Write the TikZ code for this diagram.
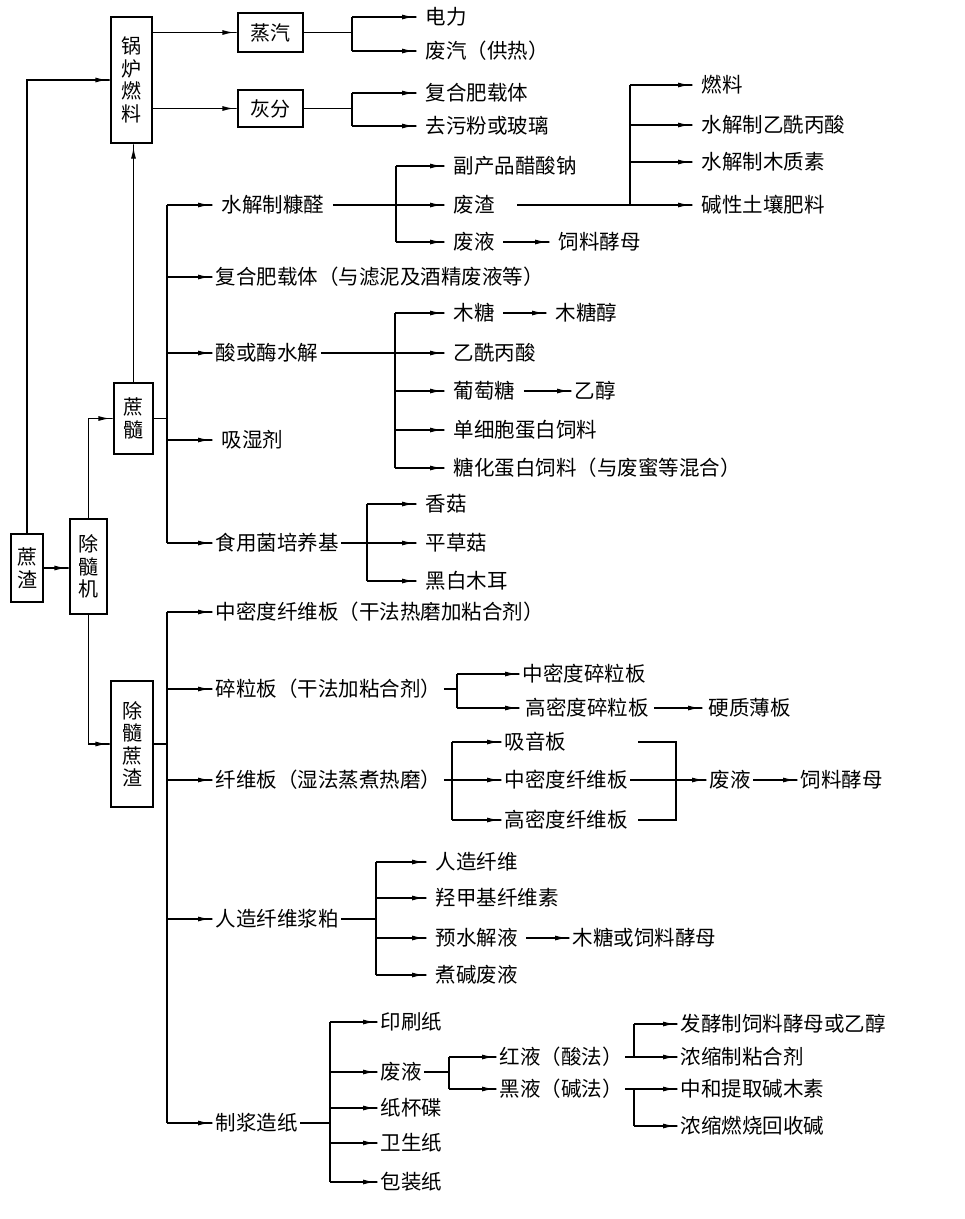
\documentclass[tikz,border=0pt]{standalone}
\usepackage{fontspec}
\setmainfont{Noto Sans CJK SC}
\usetikzlibrary{arrows.meta}
\begin{document}
\begin{tikzpicture}[x=1pt,y=-1pt,line width=1.35pt,
  arr/.style={-{Latex[length=12pt,width=5pt]Rectangle[length=3pt,width=1.35pt]}},
  boxn/.style={draw,line width=1.35pt,inner sep=0pt,align=center,font=\fontsize{20}{22.5}\selectfont},
  lbl/.style={anchor=west,inner xsep=2pt,inner ysep=0pt,font=\fontsize{20.5}{22}\selectfont},
  gap/.style={inner xsep=8pt},
]
\useasboundingbox (0,0) rectangle (965,1219);

% ---------- boxes ----------
\node[boxn,minimum width=41pt,minimum height=126pt] (gl) at (131.5,80) {锅\\炉\\燃\\料};
\node[boxn,minimum width=65pt,minimum height=39pt] (zq) at (270.5,32.5) {蒸汽};
\node[boxn,minimum width=65pt,minimum height=37pt] (hf) at (270.5,108.5) {灰分};
\node[boxn,minimum width=32pt,minimum height=68pt] (zz) at (27,568) {蔗\\渣};
\node[boxn,minimum width=37pt,minimum height=95pt] (csj) at (88.5,566.5) {除\\髓\\机};
\node[boxn,minimum width=39pt,minimum height=71pt] (zs) at (133.5,418.5) {蔗\\髓};
\node[boxn,minimum width=42pt,minimum height=126pt] (cszz) at (132,744) {除\\髓\\蔗\\渣};

\draw[arr] (zz.east) -- (zz.east -| csj.west);
\draw[arr] (zz.north) |- (gl.west);
\draw[arr] (csj.north) |- (zs.west);
\draw[arr] (csj.south) |- (cszz.west);
\draw[arr] (zs.north) -- (zs.north |- gl.south);
\draw[arr] (gl.east |- zq.west) -- (zq.west);
\draw[arr] (gl.east |- hf.west) -- (hf.west);

% ---------- steam / ash ----------
\coordinate (jz) at (352,0);
\node[lbl,gap] (dl) at (417,17) {电力};
\node[lbl,gap] (fq) at (417,51) {废汽（供热）};
\node[lbl,gap] (fh1) at (417,93) {复合肥载体};
\node[lbl,gap] (qw) at (417,126) {去污粉或玻璃};
\draw (zq.east) -- (zq.east -| jz);
\draw (jz |- dl.west) -- (jz |- fq.west);
\draw[arr] (jz |- dl.west) -- (dl.west);
\draw[arr] (jz |- fq.west) -- (fq.west);
\draw (hf.east) -- (hf.east -| jz);
\draw (jz |- fh1.west) -- (jz |- qw.west);
\draw[arr] (jz |- fh1.west) -- (fh1.west);
\draw[arr] (jz |- qw.west) -- (qw.west);

% ---------- pith tree ----------
\coordinate (s1) at (167,0);
\node[lbl,gap] (sjz) at (213,205) {水解制糠醛};
\node[lbl] (fhf) at (213,277) {复合肥载体（与滤泥及酒精废液等）};
\node[lbl] (shm) at (213,353) {酸或酶水解};
\node[lbl,gap] (xsj) at (213,440) {吸湿剂};
\node[lbl] (syj) at (213,543) {食用菌培养基};
\draw (zs.east) -- (zs.east -| s1);
\draw (s1 |- sjz.west) -- (s1 |- syj.west);
\foreach \n in {sjz,fhf,shm,xsj,syj} \draw[arr] (s1 |- \n.west) -- (\n.west);

% furfural
\coordinate (s2) at (396,0);
\node[lbl,gap] (fcp) at (445,166) {副产品醋酸钠};
\node[lbl,gap] (fz) at (445,205) {废渣};
\node[lbl,gap] (fy1) at (445,242) {废液};
\draw (sjz.east) -- (sjz.east -| s2);
\draw (s2 |- fcp.west) -- (s2 |- fy1.west);
\foreach \n in {fcp,fz,fy1} \draw[arr] (s2 |- \n.west) -- (\n.west);

\coordinate (s3) at (630,0);
\node[lbl,gap] (rl) at (693,85) {燃料};
\node[lbl,gap] (sjy) at (693,125) {水解制乙酰丙酸};
\node[lbl,gap] (sjm) at (693,162) {水解制木质素};
\node[lbl,gap] (jx) at (693,205) {碱性土壤肥料};
\draw ([xshift=14pt]fz.east) -- (fz.east -| s3);
\draw (s3 |- rl.west) -- (s3 |- jx.west);
\foreach \n in {rl,sjy,sjm,jx} \draw[arr] (s3 |- \n.west) -- (\n.west);

\node[lbl,gap] (slj1) at (550,242) {饲料酵母};
\draw[arr] (fy1.east) -- (slj1.west);

% acid / enzyme hydrolysis
\coordinate (s4) at (395,0);
\node[lbl,gap] (mt) at (445,313) {木糖};
\node[lbl,gap] (yx) at (445,353) {乙酰丙酸};
\node[lbl,gap] (ptt) at (445,391) {葡萄糖};
\node[lbl,gap] (dxb) at (445,430) {单细胞蛋白饲料};
\node[lbl,gap] (thd) at (445,468) {糖化蛋白饲料（与废蜜等混合）};
\draw (shm.east) -- (shm.east -| s4);
\draw (s4 |- mt.west) -- (s4 |- thd.west);
\foreach \n in {mt,yx,ptt,dxb,thd} \draw[arr] (s4 |- \n.west) -- (\n.west);
\node[lbl,gap] (mtc) at (547,313) {木糖醇};
\draw[arr] (mt.east) -- (mtc.west);
\node[lbl] (yc) at (572,391) {乙醇};
\draw[arr] (ptt.east) -- (yc.west);

% mushroom
\coordinate (s5) at (367,0);
\node[lbl,gap] (xg) at (417,504) {香菇};
\node[lbl,gap] (pcg) at (417,543) {平草菇};
\node[lbl,gap] (hbm) at (417,581) {黑白木耳};
\draw (syj.east) -- (syj.east -| s5);
\draw (s5 |- xg.west) -- (s5 |- hbm.west);
\foreach \n in {xg,pcg,hbm} \draw[arr] (s5 |- \n.west) -- (\n.west);

% ---------- depithed bagasse tree ----------
\coordinate (s6) at (167,0);
\node[lbl] (zmd) at (213,612) {中密度纤维板（干法热磨加粘合剂）};
\node[lbl] (slb) at (213,689) {碎粒板（干法加粘合剂）};
\node[lbl] (xwb) at (213,780) {纤维板（湿法蒸煮热磨）};
\node[lbl] (rzj) at (213,919) {人造纤维浆粕};
\node[lbl] (zjz) at (213,1123) {制浆造纸};
\draw (cszz.east) -- (cszz.east -| s6);
\draw (s6 |- zmd.west) -- (s6 |- zjz.west);
\foreach \n in {zmd,slb,xwb,rzj,zjz} \draw[arr] (s6 |- \n.west) -- (\n.west);

% particle board
\coordinate (s7) at (457,0);
\node[lbl] (zmsl) at (520,674) {中密度碎粒板};
\node[lbl,inner xsep=5pt] (gmsl) at (520,708) {高密度碎粒板};
\draw (slb.east) -- (slb.east -| s7);
\draw (s7 |- zmsl.west) -- (s7 |- gmsl.west);
\foreach \n in {zmsl,gmsl} \draw[arr] (s7 |- \n.west) -- (\n.west);
\node[lbl,inner xsep=5pt] (yzb) at (703,708) {硬质薄板};
\draw[arr] (gmsl.east) -- (yzb.west);

% fibre board
\coordinate (s8) at (452,0);
\node[lbl] (xyb) at (502,742) {吸音板};
\node[lbl] (zmx) at (502,780) {中密度纤维板};
\node[lbl] (gmx) at (502,820) {高密度纤维板};
\draw (xwb.east) -- (xwb.east -| s8);
\draw (s8 |- xyb.west) -- (s8 |- gmx.west);
\foreach \n in {xyb,zmx,gmx} \draw[arr] (s8 |- \n.west) -- (\n.west);
\coordinate (b1) at (638,0);
\coordinate (b2) at (676,0);
\draw (b1 |- xyb.west) -- (b2 |- xyb.west) -- (b2 |- gmx.west) -- (b1 |- gmx.west);
\draw (zmx.east) -- (zmx.east -| b2);
\node[lbl] (fy2) at (707,780) {废液};
\draw[arr] (b2 |- fy2.west) -- (fy2.west);
\node[lbl] (slj2) at (798,780) {饲料酵母};
\draw[arr] (fy2.east) -- (slj2.west);

% rayon pulp
\coordinate (s9) at (376,0);
\node[lbl,gap] (rzw) at (427,862) {人造纤维};
\node[lbl,gap] (qjj) at (427,898) {羟甲基纤维素};
\node[lbl,gap] (ysj) at (427,938) {预水解液};
\node[lbl,gap] (zjf) at (427,975) {煮碱废液};
\draw (rzj.east) -- (rzj.east -| s9);
\draw (s9 |- rzw.west) -- (s9 |- zjf.west);
\foreach \n in {rzw,qjj,ysj,zjf} \draw[arr] (s9 |- \n.west) -- (\n.west);
\node[lbl] (mth) at (570,938) {木糖或饲料酵母};
\draw[arr] (ysj.east) -- (mth.west);

% pulp and paper
\coordinate (s10) at (330,0);
\node[lbl] (ysz) at (378,1022) {印刷纸};
\node[lbl] (fy3) at (378,1072) {废液};
\node[lbl] (zbd) at (378,1108) {纸杯碟};
\node[lbl] (wsz) at (378,1143) {卫生纸};
\node[lbl] (bzz) at (378,1182) {包装纸};
\draw (zjz.east) -- (zjz.east -| s10);
\draw (s10 |- ysz.west) -- (s10 |- bzz.west);
\foreach \n in {ysz,fy3,zbd,wsz,bzz} \draw[arr] (s10 |- \n.west) -- (\n.west);

\coordinate (s11) at (449,0);
\node[lbl] (hy) at (497,1057) {红液（酸法）};
\node[lbl] (hey) at (497,1089) {黑液（碱法）};
\draw (fy3.east) -- (fy3.east -| s11);
\draw (s11 |- hy.west) -- (s11 |- hey.west);
\foreach \n in {hy,hey} \draw[arr] (s11 |- \n.west) -- (\n.west);

\coordinate (s12) at (634,0);
\node[lbl] (fj) at (678,1024) {发酵制饲料酵母或乙醇};
\node[lbl] (ns1) at (678,1057) {浓缩制粘合剂};
\node[lbl] (zh) at (678,1089) {中和提取碱木素};
\node[lbl] (ns2) at (678,1126) {浓缩燃烧回收碱};
\draw (hy.east) -- (hy.east -| s12);
\draw (s12 |- fj.west) -- (s12 |- ns1.west);
\foreach \n in {fj,ns1} \draw[arr] (s12 |- \n.west) -- (\n.west);
\draw (hey.east) -- (hey.east -| s12);
\draw (s12 |- zh.west) -- (s12 |- ns2.west);
\foreach \n in {zh,ns2} \draw[arr] (s12 |- \n.west) -- (\n.west);
\end{tikzpicture}
\end{document}
